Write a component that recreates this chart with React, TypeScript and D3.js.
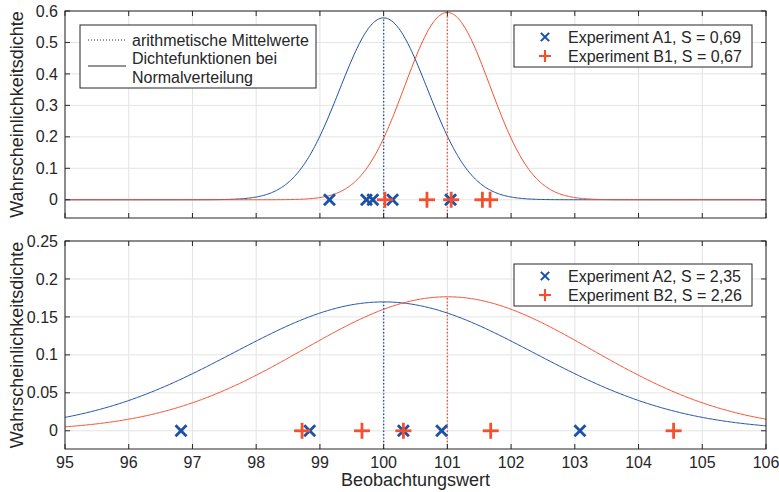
import React from "react";
import * as d3 from "d3";

const W = 779;
const H = 492;

const xTicks = [95, 96, 97, 98, 99, 100, 101, 102, 103, 104, 105, 106];
const topYTicks = [0, 0.1, 0.2, 0.3, 0.4, 0.5, 0.6];
const botYTicks = [0, 0.05, 0.1, 0.15, 0.2, 0.25];

// Top panel data
const pointsA1 = [99.15, 99.73, 99.83, 100.14, 101.05];
const pointsB1 = [100.02, 100.68, 101.06, 101.55, 101.67];
const meanA1 = 100;
const meanB1 = 101;
const sA1 = 0.69;
const sB1 = 0.67;

// Bottom panel data
const pointsA2 = [96.82, 98.84, 100.31, 100.91, 103.08];
const pointsB2 = [98.72, 99.66, 100.31, 101.68, 104.55];
const meanA2 = 100;
const meanB2 = 101;
const sA2 = 2.35;
const sB2 = 2.26;

const legendTop = ["Experiment A1, S = 0,69", "Experiment B1, S = 0,67"];
const legendBot = ["Experiment A2, S = 2,35", "Experiment B2, S = 2,26"];
const legendLines = ["arithmetische Mittelwerte", "Dichtefunktionen bei", "Normalverteilung"];

const BLUE = "#1b51a6";
const RED = "#f4502e";
const AX = "#262626";
const GRID = "#e3e3e3";
const FONT = "'Liberation Sans', Arial, Helvetica, sans-serif";
const TICK_FS = 16;
const LEG_FS = 16;
const LAB_FS = 18;

const X0 = 65;
const X1 = 766;

const xScale = d3.scaleLinear().domain([95, 106]).range([X0, X1]);

function pdf(x: number, m: number, s: number) {
  return Math.exp(-0.5 * ((x - m) / s) ** 2) / (s * Math.sqrt(2 * Math.PI));
}

const curveXs = d3.range(95, 106.0001, 0.02);

function XMark({ x, y }: { x: number; y: number }) {
  const r = 5.5;
  return (
    <g stroke={BLUE} strokeWidth={2.8}>
      <line x1={x - r} y1={y - r} x2={x + r} y2={y + r} />
      <line x1={x - r} y1={y + r} x2={x + r} y2={y - r} />
    </g>
  );
}

function PlusMark({ x, y }: { x: number; y: number }) {
  const r = 8;
  return (
    <g stroke={RED} strokeWidth={2.8}>
      <line x1={x - r} y1={y} x2={x + r} y2={y} />
      <line x1={x} y1={y - r} x2={x} y2={y + r} />
    </g>
  );
}

function Panel({
  y0,
  y1,
  yDomain,
  yTicks,
  fmt,
  ptsA,
  ptsB,
  mA,
  mB,
  sA,
  sB,
  showXLabels,
}: {
  y0: number;
  y1: number;
  yDomain: [number, number];
  yTicks: number[];
  fmt: (v: number) => string;
  ptsA: number[];
  ptsB: number[];
  mA: number;
  mB: number;
  sA: number;
  sB: number;
  showXLabels: boolean;
}) {
  const y = d3.scaleLinear().domain(yDomain).range([y1, y0]);
  const line = (m: number, s: number) =>
    d3
      .line<number>()
      .x((v) => xScale(v))
      .y((v) => y(pdf(v, m, s)))(curveXs) || "";
  const tl = 5;
  return (
    <g>
      <rect x={X0} y={y0} width={X1 - X0} height={y1 - y0} fill="white" />
      {xTicks.map((t) => (
        <line key={"gx" + t} x1={xScale(t)} x2={xScale(t)} y1={y0} y2={y1} stroke={GRID} strokeWidth={1} />
      ))}
      {yTicks.map((t) => (
        <line key={"gy" + t} x1={X0} x2={X1} y1={y(t)} y2={y(t)} stroke={GRID} strokeWidth={1} />
      ))}
      <defs>
        <clipPath id={"clip" + y0}>
          <rect x={X0} y={y0} width={X1 - X0} height={y1 - y0} />
        </clipPath>
      </defs>
      <g clipPath={`url(#clip${y0})`}>
        <path d={line(mA, sA)} fill="none" stroke={BLUE} strokeWidth={1} />
        <path d={line(mB, sB)} fill="none" stroke={RED} strokeWidth={1} />
        <line x1={xScale(mA)} x2={xScale(mA)} y1={y1} y2={y(pdf(mA, mA, sA))} stroke={BLUE} strokeWidth={1.4} strokeDasharray="1.4,2" />
        <line x1={xScale(mB)} x2={xScale(mB)} y1={y1} y2={y(pdf(mB, mB, sB))} stroke={RED} strokeWidth={1.4} strokeDasharray="1.4,2" />
      </g>
      {ptsA.map((v, i) => (
        <XMark key={"a" + i} x={xScale(v)} y={y(0)} />
      ))}
      {ptsB.map((v, i) => (
        <PlusMark key={"b" + i} x={xScale(v)} y={y(0)} />
      ))}
      {xTicks.map((t) => (
        <g key={"tx" + t} stroke={AX} strokeWidth={1}>
          <line x1={xScale(t)} x2={xScale(t)} y1={y1} y2={y1 - tl} />
          <line x1={xScale(t)} x2={xScale(t)} y1={y0} y2={y0 + tl} />
        </g>
      ))}
      {yTicks.map((t) => (
        <g key={"ty" + t} stroke={AX} strokeWidth={1}>
          <line x1={X0} x2={X0 + tl} y1={y(t)} y2={y(t)} />
          <line x1={X1} x2={X1 - tl} y1={y(t)} y2={y(t)} />
        </g>
      ))}
      <rect x={X0} y={y0} width={X1 - X0} height={y1 - y0} fill="none" stroke={AX} strokeWidth={1} />
      {yTicks.map((t) => (
        <text key={"ly" + t} x={X0 - 7} y={y(t)} dy="0.35em" textAnchor="end" fontSize={TICK_FS} fill={AX} fontFamily={FONT}>
          {fmt(t)}
        </text>
      ))}
      {showXLabels &&
        xTicks.map((t) => (
          <text key={"lx" + t} x={xScale(t)} y={y1 + 19} textAnchor="middle" fontSize={TICK_FS} fill={AX} fontFamily={FONT}>
            {t}
          </text>
        ))}
      <text
        transform={`translate(23,${(y0 + y1) / 2}) rotate(-90)`}
        textAnchor="middle"
        fontSize={LAB_FS}
        fill={AX}
        fontFamily={FONT}
      >
        Wahrscheinlichkeitsdichte
      </text>
    </g>
  );
}

function MarkerLegend({ x, y, labels }: { x: number; y: number; labels: string[] }) {
  const w = 238;
  const h = 42;
  return (
    <g>
      <rect x={x} y={y} width={w} height={h} fill="white" stroke={AX} strokeWidth={1} />
      <g transform={`translate(${x + 31},${y + 12}) scale(0.75)`}>
        <XMark x={0} y={0} />
      </g>
      <g transform={`translate(${x + 31},${y + 31}) scale(0.75)`}>
        <PlusMark x={0} y={0} />
      </g>
      {labels.map((l, i) => (
        <text key={l} x={x + 54} y={y + 12 + i * 19} dy="0.35em" fontSize={LEG_FS} fill={AX} fontFamily={FONT}>
          {l}
        </text>
      ))}
    </g>
  );
}

export default function App() {
  return (
    <div style={{ position: "absolute", left: 0, top: 0 }}>
      <svg width={W} height={H} style={{ display: "block", background: "white" }}>
        <Panel
          y0={11}
          y1={218}
          yDomain={[-0.058, 0.6]}
          yTicks={topYTicks}
          fmt={(v) => (v === 0 ? "0" : d3.format(".1f")(v))}
          ptsA={pointsA1}
          ptsB={pointsB1}
          mA={meanA1}
          mB={meanB1}
          sA={sA1}
          sB={sB1}
          showXLabels={false}
        />
        <Panel
          y0={241}
          y1={449}
          yDomain={[-0.024, 0.25]}
          yTicks={botYTicks}
          fmt={(v) => (v === 0 ? "0" : String(+v.toFixed(2)))}
          ptsA={pointsA2}
          ptsB={pointsB2}
          mA={meanA2}
          mB={meanB2}
          sA={sA2}
          sB={sB2}
          showXLabels={true}
        />
        <g>
          <rect x={80} y={25} width={236} height={63} fill="white" stroke={AX} strokeWidth={1} />
          <line x1={88} x2={126} y1={40} y2={40} stroke={AX} strokeWidth={1} strokeDasharray="1,2" />
          <line x1={88} x2={126} y1={66} y2={66} stroke={AX} strokeWidth={1} />
          {legendLines.map((l, i) => (
            <text key={l} x={132} y={40 + i * 18.5} dy="0.35em" fontSize={LEG_FS} fill={AX} fontFamily={FONT}>
              {l}
            </text>
          ))}
        </g>
        <MarkerLegend x={514} y={25} labels={legendTop} />
        <MarkerLegend x={514} y={264} labels={legendBot} />
        <text x={(X0 + X1) / 2} y={486} textAnchor="middle" fontSize={LAB_FS} fill={AX} fontFamily={FONT}>
          Beobachtungswert
        </text>
      </svg>
    </div>
  );
}
